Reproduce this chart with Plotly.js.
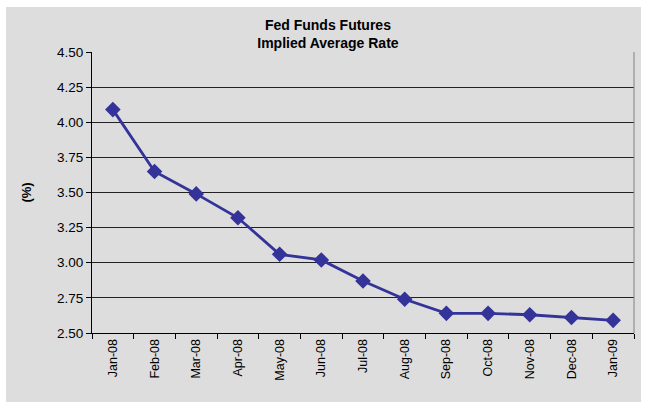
<!DOCTYPE html>
<html>
<head>
<meta charset="utf-8">
<script src="https://cdn.plot.ly/plotly-3.0.1.min.js"></script>
<style>
html,body{margin:0;padding:0;background:#ffffff;width:647px;height:408px;overflow:hidden;}
#chart{position:absolute;left:6px;top:7px;width:635px;height:395px;}
</style>
</head>
<body>
<div id="chart"></div>
<script>
const months = ["Jan-08","Feb-08","Mar-08","Apr-08","May-08","Jun-08","Jul-08","Aug-08","Sep-08","Oct-08","Nov-08","Dec-08","Jan-09"];
const impliedRate = [4.09, 3.65, 3.49, 3.32, 3.06, 3.02, 2.87, 2.74, 2.64, 2.64, 2.63, 2.61, 2.59];
const yTicks = [2.50, 2.75, 3.00, 3.25, 3.50, 3.75, 4.00, 4.25, 4.50];

const trace = {
  x: months,
  y: impliedRate,
  type: "scatter",
  mode: "lines+markers",
  line: {color: "#333399", width: 2.8},
  marker: {symbol: "diamond", size: 12, color: "#333399"},
  hoverinfo: "skip"
};

const layout = {
  width: 635,
  height: 395,
  margin: {l: 86, r: 7, t: 45, b: 69},
  paper_bgcolor: "#dddddd",
  plot_bgcolor: "#dddddd",
  showlegend: false,
  font: {family: "Liberation Sans, Arial, sans-serif", size: 13, color: "#000000"},
  title: {
    text: "<b>Fed Funds Futures</b><br><b>Implied Average Rate</b>",
    font: {family: "Liberation Sans, Arial, sans-serif", size: 14, color: "#000000"},
    x: 0.507, xanchor: "center",
    y: 0.943, yanchor: "top"
  },
  xaxis: {
    type: "category",
    tickmode: "array",
    tickvals: months,
    ticktext: months,
    tickangle: -90,
    tickson: "boundaries",
    ticks: "outside",
    ticklen: 5,
    tickcolor: "#000000",
    showgrid: false,
    showline: true,
    linecolor: "#000000",
    linewidth: 1,
    zeroline: false,
    tickfont: {size: 12.5},
    range: [-0.5, 12.5]
  },
  yaxis: {
    range: [2.5, 4.5],
    tickmode: "array",
    tickvals: yTicks,
    ticktext: yTicks.map(v => v.toFixed(2)),
    ticks: "outside",
    ticklen: 5,
    tickcolor: "#000000",
    showgrid: true,
    gridcolor: "#222222",
    gridwidth: 1,
    showline: true,
    linecolor: "#000000",
    linewidth: 1,
    zeroline: false,
    tickfont: {size: 13.5},
    title: {text: "<b>(%)</b>", font: {size: 13}, standoff: 22}
  },
  shapes: [
    {type: "line", xref: "paper", yref: "paper", x0: 1, x1: 1, y0: 0, y1: 1, line: {color: "#808080", width: 1}}
  ]
};

Plotly.newPlot("chart", [trace], layout, {displayModeBar: false, staticPlot: true});
</script>
</body>
</html>
